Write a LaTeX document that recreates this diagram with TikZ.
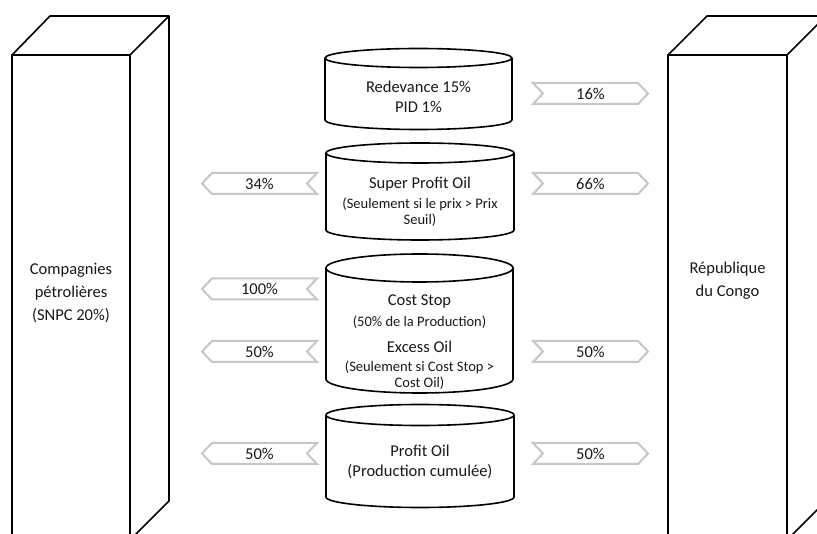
\documentclass[tikz,border=0pt]{standalone}
\usepackage{fontspec}
\setmainfont{Carlito}
\newcommand\mycyl[5]{% cx, rx, ytop, ybot, ry
  \draw[cyl] (#1-#2,#3) -- (#1-#2,#4) arc[start angle=180,end angle=360,x radius=#2pt,y radius=#5pt] -- (#1+#2,#3);
  \draw[cyl] (#1,#3) ellipse[x radius=#2pt, y radius=#5pt];
}
\newcommand\chevR[3]{% yc, name, label
  \draw[chev] (533,#1-10.5) -- (638,#1-10.5) -- (648,#1) -- (638,#1+10.5) -- (533,#1+10.5) -- (543,#1) -- cycle;
  \node[lab] (#2) at (590.5,#1) {#3};
}
\newcommand\chevL[3]{% yc, name, label
  \draw[chev] (212,#1-10.5) -- (317,#1-10.5) -- (307,#1) -- (317,#1+10.5) -- (212,#1+10.5) -- (202,#1) -- cycle;
  \node[lab] (#2) at (259.5,#1) {#3};
}
\begin{document}
\begin{tikzpicture}[x=1pt,y=-1pt,
  boxline/.style={line width=1.6pt, line join=round},
  cyl/.style={line width=1.6pt, fill=white, line join=round},
  chev/.style={draw=black!22, line width=2pt, fill=white, line join=miter},
  lab/.style={font=\fontsize{16.5}{20}\selectfont, text=black!90, inner sep=0pt},
  big/.style={font=\fontsize{16.5}{20}\selectfont, align=center, text=black!90, inner sep=0pt},
  small/.style={font=\fontsize{14.5}{16}\selectfont, align=center, text=black!90, inner sep=0pt},
  boxtext/.style={font=\fontsize{16.5}{23}\selectfont, align=center, text=black!90, inner sep=0pt},
  ]
\useasboundingbox (0,0) rectangle (817,534);
\begin{scope}
\clip (0,0) rectangle (817,534);
% left box
\draw[boxline] (12,55) rectangle (130,540);
\draw[boxline] (12,55) -- (50,16) -- (169,16) -- (130,55);
\draw[boxline] (169,16) -- (169,501) -- (130,540);
% right box
\draw[boxline] (668,55) rectangle (787,540);
\draw[boxline] (668,55) -- (707,16) -- (826,16) -- (787,55);
\draw[boxline] (826,16) -- (826,501) -- (787,540);
\end{scope}
\node[boxtext] (cie) at (71,293) {Compagnies\\pétrolières\\(SNPC 20\%)};
\node[boxtext] (rep) at (727.5,281) {République\\du Congo};
% cylinders
\mycyl{418.5}{93.5}{58}{120}{9.5}
\mycyl{420}{94}{153}{230}{10}
\mycyl{419.5}{93.5}{268}{379}{14}
\mycyl{420}{94}{415}{497}{10.5}
\node[big] (red) at (418.5,96.5) {Redevance 15\%\\PID 1\%};
\node[big] (spo) at (420,184) {Super Profit Oil};
\node[small] (spos) at (420,212) {(Seulement si le prix > Prix\\Seuil)};
\node[big] (cs) at (419.5,301) {Cost Stop};
\node[small] (css) at (419.5,322) {(50\% de la Production)};
\node[big] (eo) at (419.5,347) {Excess Oil};
\node[small] (eos) at (419.5,375.5) {(Seulement si Cost Stop >\\Cost Oil)};
\node[big] (po) at (420,462) {Profit Oil\\(Production cumulée)};
% chevrons
\chevR{93.5}{r1}{16\%}
\chevR{183.5}{r2}{66\%}
\chevR{351.5}{r3}{50\%}
\chevR{453.5}{r4}{50\%}
\chevL{183.5}{l2}{34\%}
\chevL{289}{l3}{100\%}
\chevL{351.5}{l4}{50\%}
\chevL{453.5}{l5}{50\%}
\end{tikzpicture}
\end{document}
